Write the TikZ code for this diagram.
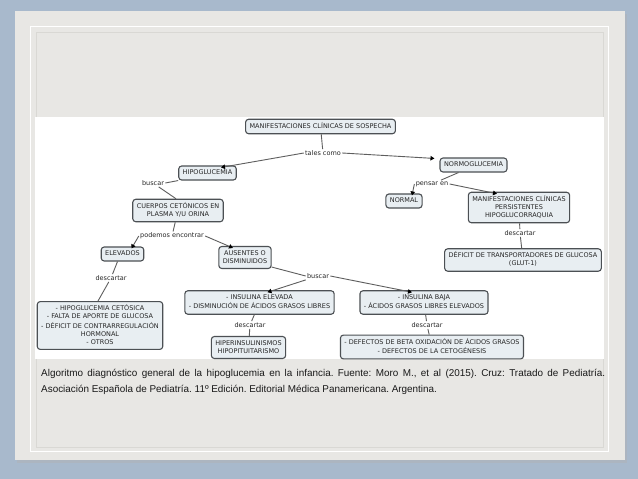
\documentclass[tikz,border=0pt]{standalone}
\usepackage{fontspec}
\setmainfont{Liberation Sans}
\newfontfamily\cmapfont{DejaVu Sans}
\usetikzlibrary{arrows.meta,calc}
\definecolor{bgblue}{HTML}{A8B9CC}
\definecolor{slide}{HTML}{E8E7E4}
\definecolor{framedark}{HTML}{D9D8D4}
\definecolor{boxfill}{HTML}{E8EEF2}
\definecolor{boxline}{HTML}{4C5054}
\definecolor{txt}{HTML}{262626}
\definecolor{linec}{HTML}{5E5E5E}
\begin{document}
\begin{tikzpicture}[x=1pt,y=-1pt,
  box/.style={draw=boxline, line width=1.1pt, fill=boxfill, rounded corners=3pt,
    align=center, inner xsep=4pt, inner ysep=3pt, text=txt,
    font=\cmapfont\fontsize{6.5}{8}\selectfont},
  lab/.style={fill=white, inner sep=1.2pt, text=txt,
    font=\cmapfont\fontsize{6.5}{8}\selectfont},
  link/.style={draw=linec, line width=0.9pt},
  arr/.style={link, -{Triangle[length=4pt,width=4.5pt,color=black]}}]
\useasboundingbox (0,0) rectangle (638,479);
% background and slide
\fill[bgblue] (0,0) rectangle (638,479);
\fill[black!30, opacity=.45] (17,14) rectangle (627,463);
\fill[slide] (15,11) rectangle (625,460);
\draw[white, line width=1pt] (30,26) rectangle (608,451);
\draw[framedark, line width=0.5pt] (36,32) rectangle (603,447);
\fill[white] (35,117) rectangle (604,359);
% nodes
\node[box] (man) at (320.5,126.5) {\strut MANIFESTACIONES CLÍNICAS DE SOSPECHA};
\node[box] (hipo) at (207.5,173) {\strut HIPOGLUCEMIA};
\node[box] (normo) at (473.5,165) {\strut NORMOGLUCEMIA};
\node[box] (normal) at (404,201) {\strut NORMAL};
\node[box] (persist) at (519,207.5) {\strut MANIFESTACIONES CLÍNICAS\\\strut PERSISTENTES\\\strut HIPOGLUCORRAQUIA};
\node[box] (cuerpos) at (178,210.5) {\strut CUERPOS CETÓNICOS EN\\\strut PLASMA Y/U ORINA};
\node[box] (elevados) at (122.5,254) {\strut ELEVADOS};
\node[box] (ausentes) at (245,257.5) {\strut AUSENTES O\\\strut DISMINUIDOS};
\node[box] (deficit) at (523,260) {\strut DÉFICIT DE TRANSPORTADORES DE GLUCOSA\\\strut (GLUT-1)};
\node[box] (insel) at (259.5,302.5) {\strut - INSULINA ELEVADA\\\strut - DISMINUCIÓN DE ÁCIDOS GRASOS LIBRES};
\node[box] (insbaja) at (424,302.5) {\strut - INSULINA BAJA\\\strut - ÁCIDOS GRASOS LIBRES ELEVADOS};
\node[box] (ceto) at (100,325.5) {\strut - HIPOGLUCEMIA CETÓSICA\\\strut - FALTA DE APORTE DE GLUCOSA\\\strut - DÉFICIT DE CONTRARREGULACIÓN\\\strut HORMONAL\\\strut - OTROS};
\node[box] (hiper) at (248.5,347.5) {\strut HIPERINSULINISMOS\\\strut HIPOPITUITARISMO};
\node[box] (defectos) at (432,347) {\strut - DEFECTOS DE BETA OXIDACIÓN DE ÁCIDOS GRASOS\\\strut - DEFECTOS DE LA CETOGÉNESIS};
% link labels
\node[lab] (tales) at (323,153) {tales como};
\node[lab] (buscar1) at (153,183) {buscar};
\node[lab] (pensar) at (432,184) {pensar en};
\node[lab] (podemos) at (172,236) {podemos encontrar};
\node[lab] (desc1) at (520,233) {descartar};
\node[lab] (desc2) at (111,278) {descartar};
\node[lab] (buscar2) at (318,276) {buscar};
\node[lab] (desc3) at (250,325) {descartar};
\node[lab] (desc4) at (427,325) {descartar};
% connectors
\draw[link] (man) -- (tales);
\draw[arr] (tales.west) -- ([xshift=13.5pt,yshift=-2pt]hipo.north);
\draw[arr] (tales.east) -- ([xshift=-5pt,yshift=-1pt]normo.north west);
\draw[link] (hipo.south west) -- (buscar1.east);
\draw[link] (buscar1) -- ([xshift=-2pt]cuerpos.north);
\draw[link] ([xshift=-15pt]normo.south) -- (pensar);
\draw[arr] (pensar.west) -- ([xshift=8pt,yshift=-2pt]normal.north);
\draw[arr] (pensar.east) -- ([xshift=-22pt,yshift=-2pt]persist.north);
\draw[link] (persist) -- (desc1);
\draw[link] (desc1) -- (deficit);
\draw[link] (cuerpos) -- (podemos);
\draw[arr] (podemos.west) -- ([xshift=9pt,yshift=-2pt]elevados.north);
\draw[arr] (podemos.east) -- ([xshift=-12pt,yshift=-2pt]ausentes.north);
\draw[link] ([xshift=-5pt]elevados.south) -- (desc2);
\draw[link] (desc2) -- ([xshift=-2pt]ceto.north);
\draw[link] ([yshift=2pt]ausentes.south east) -- (buscar2.west);
\draw[arr] (buscar2.south west) -- ([xshift=8pt,yshift=-2pt]insel.north);
\draw[arr] (buscar2.east) -- ([xshift=-12pt,yshift=-2pt]insbaja.north);
\draw[link] (insel) -- (desc3);
\draw[link] (desc3) -- (hiper);
\draw[link] (insbaja) -- (desc4);
\draw[link] (desc4) -- (defectos);
% caption
\node[anchor=base west, inner sep=0pt, text=black!90, font=\fontsize{9.9}{15.5}\selectfont] (cap) at (41,376.5)
 {\parbox[t]{564pt}{\frenchspacing Algoritmo diagnóstico general de la hipoglucemia en la infancia. Fuente: Moro M., et al (2015). Cruz: Tratado de Pediatría.\linebreak Asociación Española de Pediatría. 11º Edición. Editorial Médica Panamericana. Argentina.}};
\end{tikzpicture}
\end{document}
